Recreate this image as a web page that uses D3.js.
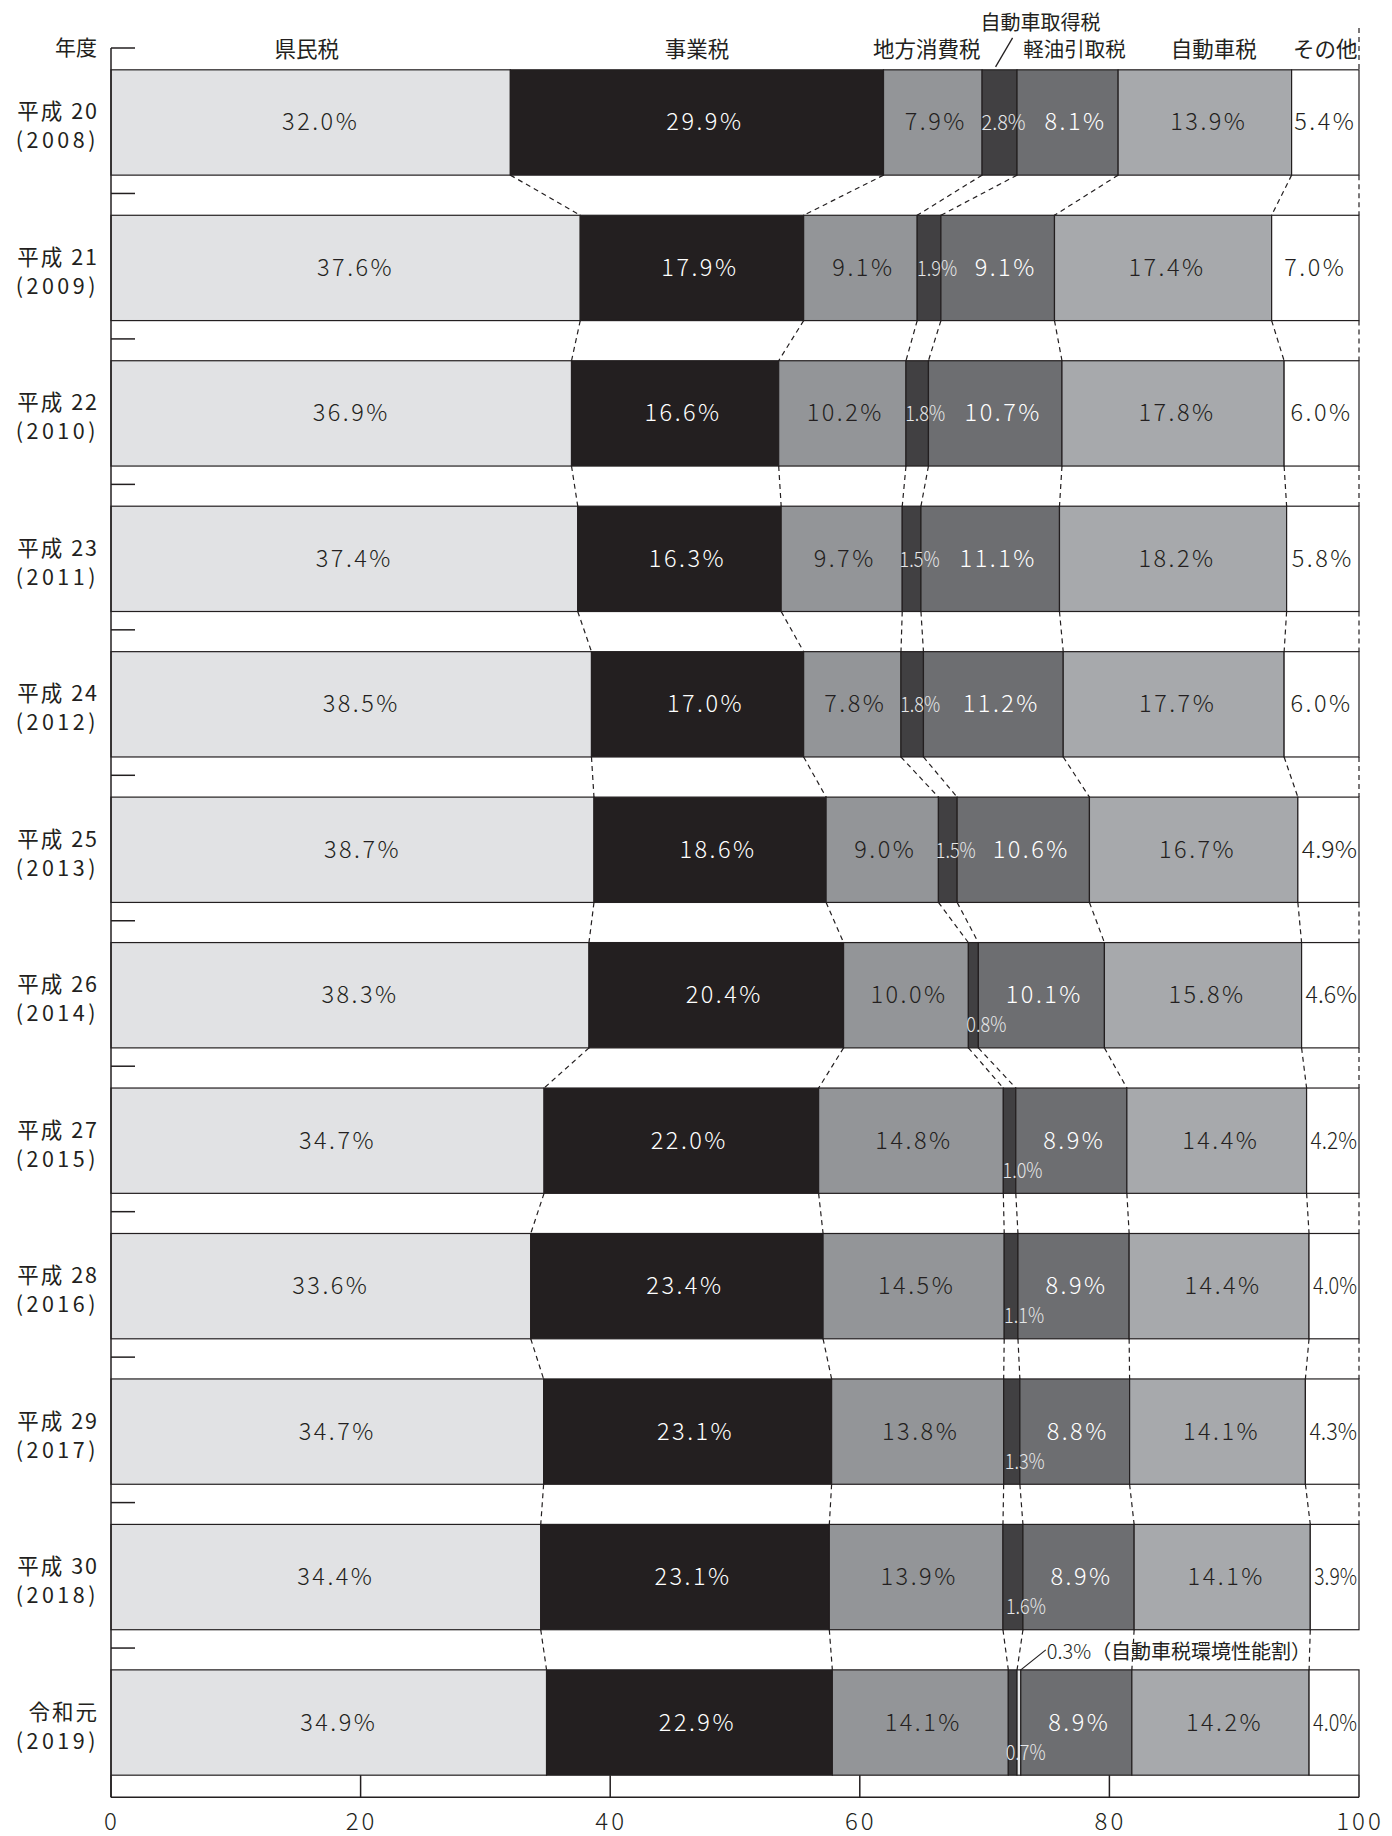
<!DOCTYPE html>
<html><head><meta charset="utf-8">
<script src="https://cdn.jsdelivr.net/npm/d3@7"></script>
<style>
body{margin:0;background:#fff}
svg text{font-family:"Noto Sans CJK JP","Noto Sans",sans-serif}
</style>
</head><body>
<svg id="c" width="1392" height="1836"></svg>
<script>
// ---------- data ----------
const years   = ["平成 20","平成 21","平成 22","平成 23","平成 24","平成 25","平成 26","平成 27","平成 28","平成 29","平成 30","令和元"];
const yearsAD = ["(2008)","(2009)","(2010)","(2011)","(2012)","(2013)","(2014)","(2015)","(2016)","(2017)","(2018)","(2019)"];
const categoryKeys  = ["pref","biz","localCons","carAcq","env","lightOil","car","other"];
const categoryNames = ["県民税","事業税","地方消費税","自動車取得税","自動車税環境性能割","軽油引取税","自動車税","その他"];
const prefTax      = [32.0,37.6,36.9,37.4,38.5,38.7,38.3,34.7,33.6,34.7,34.4,34.9];
const bizTax       = [29.9,17.9,16.6,16.3,17.0,18.6,20.4,22.0,23.4,23.1,23.1,22.9];
const localConsTax = [7.9,9.1,10.2,9.7,7.8,9.0,10.0,14.8,14.5,13.8,13.9,14.1];
const carAcqTax    = [2.8,1.9,1.8,1.5,1.8,1.5,0.8,1.0,1.1,1.3,1.6,0.7];
const envTax       = [0,0,0,0,0,0,0,0,0,0,0,0.3];
const lightOilTax  = [8.1,9.1,10.7,11.1,11.2,10.6,10.1,8.9,8.9,8.8,8.9,8.9];
const carTax       = [13.9,17.4,17.8,18.2,17.7,16.7,15.8,14.4,14.4,14.1,14.1,14.2];
const otherTax     = [5.4,7.0,6.0,5.8,6.0,4.9,4.6,4.2,4.0,4.3,3.9,4.0];
const xTicks = [0,20,40,60,80,100];
const yAxisTitle = "年度";
const envNote = "（自動車税環境性能割）";

// ---------- setup ----------
const series = {pref:prefTax,biz:bizTax,localCons:localConsTax,carAcq:carAcqTax,env:envTax,lightOil:lightOilTax,car:carTax,other:otherTax};
const nameOf = {}; categoryKeys.forEach((k,i)=>nameOf[k]=categoryNames[i]);
const fills = {pref:"#e1e2e4",biz:"#231f20",localCons:"#939598",carAcq:"#414042",env:"#e6e7e8",lightOil:"#6d6e71",car:"#a7a9ac",other:"#ffffff"};
const txtCol = {pref:"#231f20",biz:"#ffffff",localCons:"#231f20",carAcq:"#e6e7e8",env:"#231f20",lightOil:"#ffffff",car:"#231f20",other:"#231f20"};
const INK = "#231f20";

const rows = years.map((yr,i)=>{const o={year:yr,ad:yearsAD[i],i:i}; categoryKeys.forEach(k=>o[k]=series[k][i]); return o;});
const stacked = d3.stack().keys(categoryKeys).offset(d3.stackOffsetExpand)(rows);
const seg = {}; stacked.forEach(s=>{seg[s.key]=s;});
const st = (k,i)=>seg[k][i][0]*100, en=(k,i)=>seg[k][i][1]*100;

const svg = d3.select("#c");
const x = d3.scaleLinear().domain([0,100]).range([111,1359]);
const y = d3.scaleBand().domain(years).range([48,1797]).paddingInner(0.276).paddingOuter(0.15);
const bw = y.bandwidth(), step = y.step();
const lastY = y(years[years.length-1]) + bw;
const axisY = lastY + 22;

// ---------- bars ----------
const gBars = svg.append("g");
categoryKeys.forEach(k=>{
  gBars.selectAll(null).data(rows.filter(r=>r[k]>0)).enter().append("rect")
    .attr("x",r=>x(st(k,r.i))).attr("width",r=>x(en(k,r.i))-x(st(k,r.i)))
    .attr("y",r=>y(r.year)).attr("height",bw)
    .attr("fill",fills[k]).attr("stroke",INK).attr("stroke-width",1.2);
});

// ---------- connectors ----------
const connectKeys = ["pref","biz","localCons","carAcq","lightOil","car"];
const gConn = svg.append("g").attr("stroke",INK).attr("stroke-width",1.2).attr("stroke-dasharray","5,4").attr("fill","none");
for(let i=0;i<rows.length-1;i++){
  connectKeys.forEach(k=>{
    gConn.append("line").attr("x1",x(en(k,i))).attr("y1",y(years[i])+bw)
      .attr("x2",x(en(k,i+1))).attr("y2",y(years[i+1]));
  });
  if(i<rows.length-2){
    gConn.append("line").attr("x1",x(100)).attr("x2",x(100)).attr("y1",y(years[i])+bw).attr("y2",y(years[i+1]));
  }
}
gConn.append("line").attr("x1",x(100)).attr("x2",x(100)).attr("y1",28).attr("y2",y(years[0]));

// ---------- axes ----------
const gAx = svg.append("g").attr("stroke",INK).attr("stroke-width",1.5);
gAx.append("line").attr("x1",x(0)).attr("x2",x(0)).attr("y1",y(years[0])-step*0.15).attr("y2",axisY);
gAx.append("line").attr("x1",x(0)).attr("x2",x(100)).attr("y1",axisY).attr("y2",axisY);
years.forEach(yr=>{
  const ty=y(yr)-step*0.15;
  gAx.append("line").attr("x1",x(0)).attr("x2",x(0)+24).attr("y1",ty).attr("y2",ty);
});
xTicks.forEach(t=>{
  gAx.append("line").attr("x1",x(t)).attr("x2",x(t)).attr("y1",lastY).attr("y2",axisY);
});
svg.append("g").selectAll(null).data(xTicks).enter().append("text")
  .attr("x",d=>x(d)+1).attr("y",1830).attr("text-anchor","middle")
  .attr("font-size",24).attr("letter-spacing",3).attr("font-weight",300).attr("fill",INK).text(d=>d);

// y labels
svg.append("text").attr("x",97).attr("y",55).attr("text-anchor","end").attr("font-size",21).attr("fill",INK).text(yAxisTitle);
rows.forEach(r=>{
  const cy=y(r.year)+bw/2;
  svg.append("text").attr("x",99).attr("y",cy-3).attr("text-anchor","end").attr("font-size",21.5).attr("letter-spacing",2).attr("fill",INK).text(r.year);
  svg.append("text").attr("x",99).attr("y",cy+26).attr("text-anchor","end").attr("font-size",21.5).attr("letter-spacing",3.5).attr("fill",INK).text(r.ad);
});

// ---------- header category labels ----------
const headNudge = {pref:-4,biz:0,localCons:-6,lightOil:7,car:9,other:0};
["pref","biz","localCons","lightOil","car","other"].forEach(k=>{
  const cx=(x(st(k,0))+x(en(k,0)))/2 + headNudge[k];
  svg.append("text").attr("x",cx).attr("y",57).attr("text-anchor","middle")
    .attr("font-size",k==="lightOil"?20.5:21.5).attr("fill",INK).text(nameOf[k]);
});
{
  const cx=(x(st("carAcq",0))+x(en("carAcq",0)))/2, top=y(years[0]);
  svg.append("line").attr("x1",cx-4).attr("y1",top-3).attr("x2",cx+13).attr("y2",top-32).attr("stroke",INK).attr("stroke-width",1.3);
  svg.append("text").attr("x",cx+41).attr("y",30).attr("text-anchor","middle").attr("font-size",20).attr("fill",INK).text(nameOf.carAcq);
}

// ---------- value labels ----------
const dxMain = {pref:10,biz:8,localCons:3,lightOil:3,car:4,other:0};
const gLab = svg.append("g").attr("font-weight",300);
rows.forEach(r=>{
  const cy=y(r.year)+bw/2;
  const midSmall = r.i<6;
  ["pref","biz","localCons","lightOil","car","other"].forEach(k=>{
    const x0=x(st(k,r.i)), x1=x(en(k,r.i)), w=x1-x0;
    let dx = dxMain[k];
    if(k==="lightOil" && midSmall) dx = 8;
    const t=gLab.append("text").attr("x",(x0+x1)/2+dx).attr("y",cy+8).attr("text-anchor","middle")
      .attr("font-size",23.5).attr("letter-spacing",2.5).attr("fill",txtCol[k]).text(r[k].toFixed(1)+"%");
    const len=t.node().getComputedTextLength();
    if(len>w-5){
      t.attr("letter-spacing",0).attr("x",(x0+x1)/2+1).attr("textLength",w-6).attr("lengthAdjust","spacingAndGlyphs");
    }
  });
  // small 自動車取得税 label
  const k="carAcq";
  const cx=(x(st(k,r.i))+x(en(k,r.i)))/2;
  gLab.append("text").attr("x",cx+(midSmall?(r[k]>=2?4:8):13)).attr("y",cy+(midSmall?8:37)).attr("text-anchor","middle")
    .attr("font-size",21).attr("fill",txtCol[k]).attr("textLength",r[k]>=2?44:40).attr("lengthAdjust","spacingAndGlyphs")
    .text(r[k].toFixed(1)+"%");
});

// ---------- 0.3% annotation ----------
{
  const r=rows[rows.length-1];
  const ex=x(en("env",r.i)), top=y(r.year);
  svg.append("line").attr("x1",ex).attr("y1",top).attr("x2",ex+25).attr("y2",top-20).attr("stroke",INK).attr("stroke-width",1.2);
  const t=svg.append("text").attr("x",ex+26).attr("y",top-11).attr("font-size",20).attr("fill",INK);
  t.append("tspan").attr("font-weight",300).text(r.env.toFixed(1)+"%");
  t.append("tspan").text(envNote);
}
</script>
</body></html>
